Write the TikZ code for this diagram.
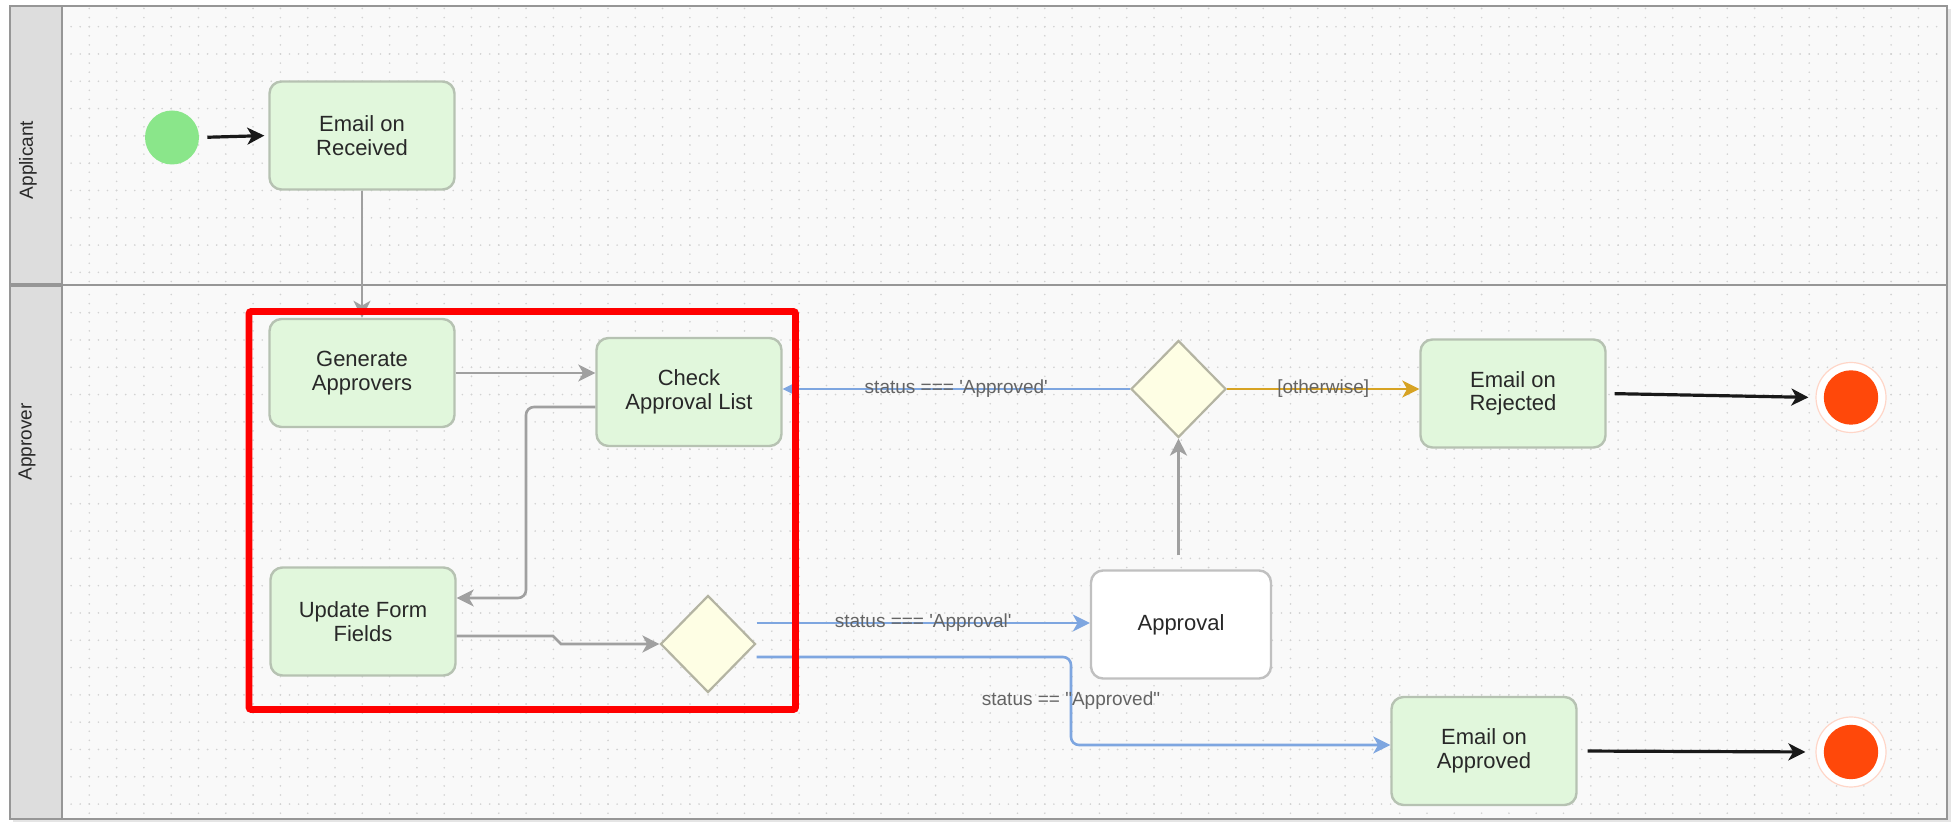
\documentclass[tikz,border=0pt]{standalone}
\usepackage{fontspec}
\setmainfont{Liberation Sans}
\usetikzlibrary{shapes.geometric, arrows.meta, calc}

\definecolor{paper}{RGB}{249,249,249}
\definecolor{gridDot}{RGB}{210,210,210}
\definecolor{laneHead}{RGB}{221,221,221}
\definecolor{laneLine}{RGB}{150,150,150}
\definecolor{boxFill}{RGB}{225,247,220}
\definecolor{boxLine}{RGB}{182,194,178}
\definecolor{plainLine}{RGB}{192,192,192}
\definecolor{gateFill}{RGB}{254,254,228}
\definecolor{gateLine}{RGB}{180,180,162}
\definecolor{startGreen}{RGB}{138,230,138}
\definecolor{endRed}{RGB}{255,72,10}
\definecolor{endRing}{RGB}{255,214,200}
\definecolor{arrGray}{RGB}{160,160,160}
\definecolor{arrBlue}{RGB}{126,166,224}
\definecolor{arrGold}{RGB}{215,163,35}
\definecolor{arrBlack}{RGB}{25,25,25}
\definecolor{lblText}{RGB}{100,100,100}
\definecolor{nodeText}{RGB}{40,40,40}
\definecolor{hiRed}{RGB}{255,0,0}

\newcommand{\nodeFont}{\fontsize{11}{11.8}\selectfont}
\newcommand{\edgeFont}{\fontsize{9.5}{11}\selectfont}

\newcommand{\frameL }{10}
\newcommand{\frameR }{1947}
\newcommand{\frameT }{6}
\newcommand{\frameB }{819}
\newcommand{\headR  }{62}
\newcommand{\laneDiv}{285}
\newcommand{\gridOffx}{89.3}
\newcommand{\gridStep}{27.3}

\tikzset{
  gridline/.style={draw=gridDot, line width=0.9pt, line cap=round, dash pattern=on 0pt off 4.55pt},
  actbox/.style={rectangle, rounded corners=6pt, draw=boxLine, fill=boxFill, line width=1.2pt,
    minimum width=92.5pt, minimum height=54pt, align=center, font=\nodeFont, text=nodeText},
  gate/.style={diamond, draw=gateLine, fill=gateFill, line width=1.1pt, inner sep=0pt,
    minimum width=47.5pt, minimum height=48.5pt},
  startdot/.style={circle, fill=startGreen, minimum size=27pt, inner sep=0pt},
  enddot/.style={circle, draw=endRing, line width=0.6pt, fill=white, minimum size=35pt, inner sep=0pt,
    path picture={\fill[endRed] (path picture bounding box.center) circle[radius=13.6pt];}},
  lanelbl/.style={rotate=90, font=\edgeFont, text=nodeText, inner sep=0pt},
  edgelbl/.style={font=\edgeFont, text=lblText, inner sep=0pt},
  tip/.style={-{Stealth[length=8.5pt, width=8.5pt, inset=2.4pt]}},
  flowgray/.style={tip, draw=arrGray, line width=1.3pt},
  flowblue/.style={tip, draw=arrBlue, line width=1.3pt},
  flowgold/.style={tip, draw=arrGold, line width=1.3pt},
  flowblack/.style={tip, draw=arrBlack, line width=1.6pt},
  hilite/.style={draw=hiRed, line width=3.3pt, rounded corners=1pt}
}

\begin{document}
\begin{tikzpicture}[x=0.5pt, y=-0.5pt]
  \useasboundingbox (0,0) rectangle (1955,822);

  % Frame:
  \fill[black!10] (\frameL+3, \frameT+3) rectangle (\frameR+4, \frameB+3);
  \fill[paper] (\frameL, \frameT) rectangle (\frameR, \frameB);
  \fill[laneHead] (\frameL, \frameT) rectangle (\headR, \frameB);

  % Grid:
  \foreach \gx in {0,...,67} {
    \draw[gridline] (\gridOffx+\gx*\gridStep, 8.5) -- (\gridOffx+\gx*\gridStep, 283);
    \draw[gridline] (\gridOffx+\gx*\gridStep, 294.5) -- (\gridOffx+\gx*\gridStep, 817);
  }
  \foreach \gy in {0,...,9}  \draw[gridline] (71.1, 26.7+\gy*\gridStep) -- (1945, 26.7+\gy*\gridStep);
  \foreach \gy in {0,...,18} \draw[gridline] (71.1, 312.7+\gy*\gridStep) -- (1945, 312.7+\gy*\gridStep);

  % Lanes:
  \draw[laneLine, line width=1pt] (\headR, \frameT) -- (\headR, \frameB);
  \draw[laneLine, line width=1.8pt] (\frameL, \laneDiv) -- (\headR, \laneDiv);
  \draw[laneLine, line width=0.9pt] (\headR, \laneDiv) -- (\frameR, \laneDiv);
  \draw[laneLine, line width=0.9pt] (\frameL, \frameT) rectangle (\frameR, \frameB);
  \node[lanelbl] (lblApplicant) at (28,160) {Applicant};
  \node[lanelbl] (lblApprover)  at (27,442) {Approver};

  % Applicant lane:
  \node[startdot] (start) at (172,137.5) {};
  \node[actbox]   (recv)  at (362,135.5) {Email on\\Received};

  % Approver lane:
  \node[actbox] (genApp)   at (362,373)    {Generate\\Approvers};
  \node[actbox] (check)    at (689,392)    {Check\\Approval List};
  \node[actbox] (update)   at (363,621.5)  {Update Form\\Fields};
  \node[gate]   (dA)       at (708,644)    {};
  \node[actbox, fill=white, draw=plainLine, minimum width=90pt] (approval) at (1181,624.5) {Approval};
  \node[gate]   (dB)       at (1178.5,389) {};
  \node[actbox] (rej)      at (1513,393.5) {Email on\\Rejected};
  \node[actbox] (appr)     at (1484,751)   {Email on\\Approved};
  \node[enddot] (endA)     at (1851,397.5) {};
  \node[enddot] (endB)     at (1851,752)   {};

  % Bends:
  \coordinate (chkBend)  at (526,598);
  \coordinate (updJogA)  at (553,636);
  \coordinate (updJogB)  at (561,644);
  \coordinate (apprBend) at (1071,745);

  % Connectors:
  \draw[flowblack, shorten <=4pt, shorten >=2pt] (start.east) -- (recv.west);
  \draw[flowgray] (recv.south) -- (genApp.north);
  \draw[flowgray] (genApp.east) -- (genApp.east -| check.west);
  \draw[flowgray, rounded corners=4pt] ($(check.west)+(0,15)$) -| (chkBend) -- (chkBend -| update.east);
  \draw[flowgray] ($(update.east)+(0,14.5)$) -- (updJogA) -- (updJogB) -- (dA.west);
  \draw[flowblue] ($(dA.east)+(0,-21)$) coordinate (aOut) -- (aOut -| approval.west)
    node[edgelbl, midway] {status === \textquotesingle Approval\textquotesingle};
  \draw[flowblue, rounded corners=4pt] ($(dA.east)+(0,13)$) -| node[edgelbl, pos=0.75] {status == \textquotedbl Approved\textquotedbl} (apprBend) -- (apprBend -| appr.west);
  \draw[flowgray, shorten <=7pt] (dB.south |- approval.north) -- (dB.south);
  \draw[flowblue] (dB.west) -- (dB.west -| check.east)
    node[edgelbl, midway] {status === \textquotesingle Approved\textquotesingle};
  \draw[flowgold] (dB.east) -- (dB.east -| rej.west)
    node[edgelbl, midway] {[otherwise]};
  \draw[flowblack, shorten <=4pt, shorten >=3.5pt] (rej.east) -- (endA.west);
  \draw[flowblack, shorten <=5pt, shorten >=5pt] (appr.east) -- (endB.west);

  % Highlight:
  \draw[hilite] (249,311.5) rectangle (795.5,709.5);

\end{tikzpicture}
\end{document}
